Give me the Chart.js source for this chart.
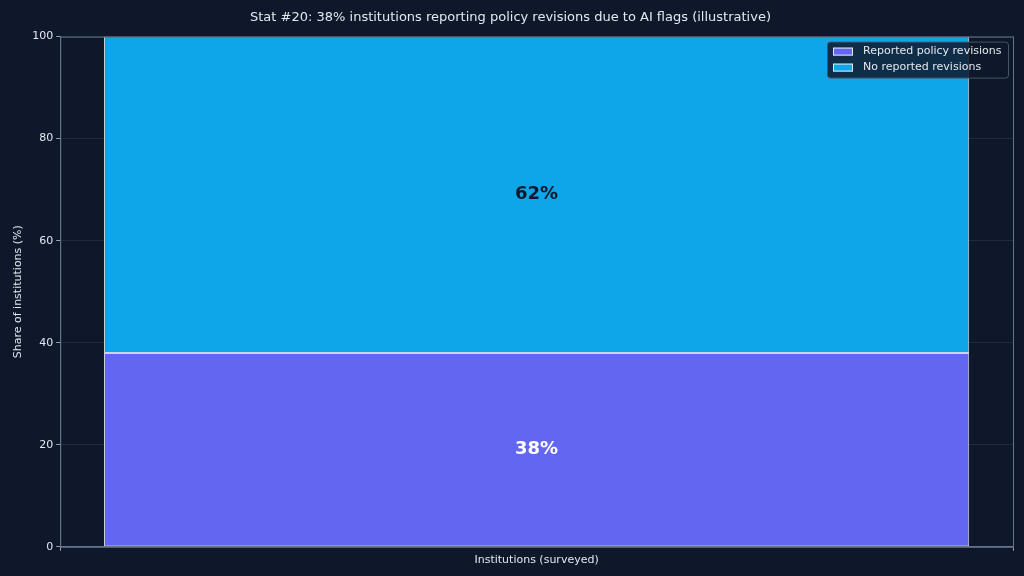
<!DOCTYPE html>
<html><head><meta charset="utf-8">
<script src="https://cdn.jsdelivr.net/npm/chart.js@4"></script>
<style>html,body{margin:0;background:#0f172a;}#w{width:1024px;height:576px;}</style>
</head><body><div id="w"><canvas id="c"></canvas></div>
<script>
const categories = ["Institutions (surveyed)"];
const reportedValues = [38];
const notReportedValues = [62];
const seriesNames = ["Reported policy revisions", "No reported revisions"];
const yTicks = [0,20,40,60,80,100];

const labelPlugin = {
  id:'lbl',
  afterDatasetsDraw(chart){
    const ctx = chart.ctx;
    chart.data.datasets.forEach((ds,i)=>{
      chart.getDatasetMeta(i).data.forEach((bar,j)=>{
        const v = ds.data[j];
        const y = (bar.y + bar.base)/2;
        ctx.save();
        ctx.font = 'bold 18px "DejaVu Sans"';
        ctx.fillStyle = i===0 ? '#ffffff' : '#0f172a';
        ctx.textAlign='center'; ctx.textBaseline='middle';
        ctx.fillText(v+'%', bar.x, y);
        ctx.restore();
      });
    });
    // legend
    const a = chart.chartArea;
    const x0 = a.right-186, y0 = a.top+5, w=181, h=36;
    ctx.save();
    ctx.fillStyle='rgba(15,23,42,0.85)'; ctx.strokeStyle='#475569'; ctx.lineWidth=1;
    ctx.beginPath(); ctx.roundRect(x0+0.5,y0+0.5,w,h,3); ctx.fill(); ctx.stroke();
    ctx.font='11px "DejaVu Sans"'; ctx.textBaseline='middle';
    chart.data.datasets.forEach((ds,i)=>{
      const yy = y0+10+i*16;
      ctx.fillStyle=ds.backgroundColor; ctx.strokeStyle='#e2e8f0';
      ctx.fillRect(x0+6,yy-4,20,8); ctx.strokeRect(x0+6.5,yy-3.5,19,7);
      ctx.fillStyle='#e2e8f0'; ctx.fillText(ds.label, x0+36, yy);
    });
    ctx.restore();
  }
};

new Chart(document.getElementById('c'),{
  type:'bar',
  data:{labels:categories,datasets:[
    {label:seriesNames[0],data:reportedValues,backgroundColor:'#6366f1',borderColor:'#cbd5e1',borderWidth:1,borderSkipped:false},
    {label:seriesNames[1],data:notReportedValues,backgroundColor:'#0ea5e9',borderColor:'#cbd5e1',borderWidth:1,borderSkipped:false}
  ]},
  options:{
    responsive:true,maintainAspectRatio:false,animation:false,
    layout:{padding:{left:8,right:11,top:0,bottom:6}},
    datasets:{bar:{categoryPercentage:1,barPercentage:0.908}},
    plugins:{legend:{display:false},tooltip:{enabled:false},
      title:{display:true,text:'Stat #20: 38% institutions reporting policy revisions due to AI flags (illustrative)',color:'#e2e8f0',font:{family:'DejaVu Sans',size:13,weight:'normal'},padding:{top:10,bottom:11}}},
    scales:{
      x:{stacked:true,grid:{color:'rgba(148,163,184,0.15)',drawTicks:true,tickColor:'#94a3b8',tickLength:4},border:{color:'#64748b'},
         ticks:{color:'#e2e8f0',font:{family:'DejaVu Sans',size:11}}},
      y:{stacked:true,min:0,max:100,afterBuildTicks(s){s.ticks=yTicks.map(v=>({value:v}));},
         grid:{color:'rgba(148,163,184,0.15)',tickColor:'#94a3b8',tickLength:4},border:{color:'#64748b'},
         ticks:{color:'#e2e8f0',font:{family:'DejaVu Sans',size:11}},
         title:{display:true,text:'Share of institutions (%)',color:'#e2e8f0',font:{family:'DejaVu Sans',size:11}}}
    }
  },
  plugins:[labelPlugin,{id:'frame',afterDraw(c){const a=c.chartArea,x=c.ctx;x.save();x.strokeStyle='#64748b';x.strokeRect(a.left+0.5,a.top+0.5,a.right-a.left,a.bottom-a.top);x.restore();}}]
});
</script></body></html>
